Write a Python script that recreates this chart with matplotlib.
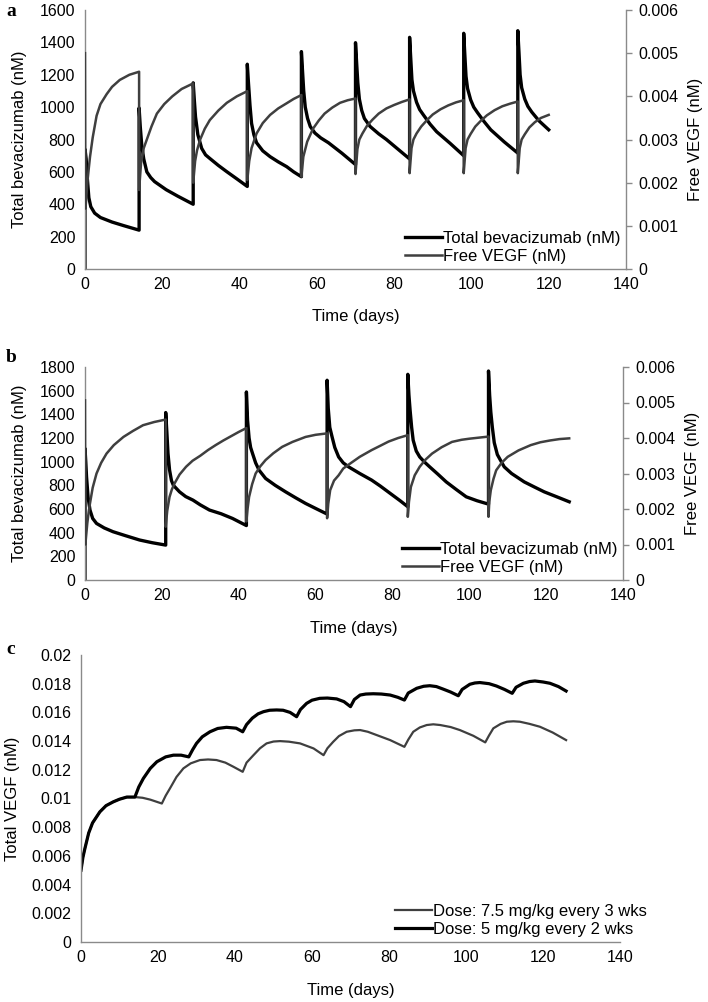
import numpy as np
import matplotlib
matplotlib.use('Agg')
import matplotlib.pyplot as plt
from matplotlib.ticker import FuncFormatter

plt.rcParams['font.family'] = ['Liberation Sans', 'DejaVu Sans']

# ---- panel a: 5 mg/kg every 2 weeks ----
a_bev_t = [0, 0, 0.3, 0.6, 1, 1.5, 2.5, 4, 7, 10, 14,
           14, 14.3, 14.7, 15.2, 16, 17, 18, 21, 24, 28,
           28, 28.3, 28.6, 29.2, 30.2, 31.2, 32.3, 34.5, 36.7, 39.4, 42,
           42, 42.3, 42.7, 43.1, 43.7, 44.4, 46, 47.9, 50, 52.2, 54, 56,
           56, 56.3, 56.6, 57, 57.6, 58.3, 59.5, 61, 63, 66.5, 70,
           70, 70.3, 70.6, 71, 71.6, 72.3, 73.8, 76, 78, 81, 84,
           84, 84.3, 84.6, 85, 85.8, 86.6, 87.6, 89.3, 91, 94.5, 98,
           98, 98.3, 98.6, 99, 99.8, 100.6, 101.6, 103.3, 105, 108.5, 112,
           112, 112.3, 112.6, 113, 113.8, 114.6, 115.6, 117.5, 120]
a_bev = [0, 740, 680, 560, 440, 385, 345, 318, 290, 268, 240,
         995, 880, 760, 680, 600, 565, 540, 490, 450, 400,
         1150, 1040, 940, 830, 745, 705, 683, 640, 601, 555, 510,
         1265, 1150, 1010, 900, 830, 780, 730, 694, 662, 632, 600, 570,
         1343, 1220, 1100, 1000, 930, 880, 840, 810, 780, 715, 645,
         1398, 1270, 1150, 1050, 980, 930, 880, 835, 800, 740, 680,
         1431, 1300, 1170, 1100, 1030, 985, 951, 895, 848, 776, 700,
         1456, 1320, 1190, 1115, 1045, 1000, 965, 910, 860, 785, 716,
         1472, 1340, 1200, 1120, 1050, 1005, 970, 915, 860]

# free VEGF, units of 1e-3 nM
a_vegf_t = [0, 0.1, 0.3, 0.6, 1, 1.3, 2, 3, 4, 5.6, 7, 9, 11.5, 14,
            14, 14.5, 15.2, 16, 17.2, 18.6, 20.5, 22.6, 25, 28,
            28, 28.5, 29, 29.8, 31, 32.3, 34.5, 36.7, 39.3, 42,
            42, 42.5, 43.1, 44.4, 46, 47.9, 50, 52.2, 54, 56,
            56, 56.5, 57.5, 59, 60.5, 62, 64, 66, 68, 70,
            70, 70.5, 71, 71.8, 73, 74.4, 76, 78, 80, 82, 84,
            84, 84.5, 85, 85.8, 87, 88.4, 90, 92, 94, 96, 98,
            98, 98.5, 99, 99.8, 101, 102.4, 104, 106, 108, 110, 112,
            112, 112.5, 113, 113.8, 115, 116.4, 118, 120]
a_vegf = [5.0, 1.4, 1.6, 2.0, 2.35, 2.6, 3.05, 3.55, 3.82, 4.05, 4.22, 4.38, 4.5, 4.57,
          1.83, 2.45, 2.8, 3.0, 3.3, 3.6, 3.82, 4.0, 4.17, 4.3,
          2.0, 2.5, 2.75, 3.0, 3.25, 3.45, 3.67, 3.85, 4.0, 4.12,
          2.06, 2.5, 2.8, 3.14, 3.38, 3.57, 3.72, 3.84, 3.94, 4.03,
          2.14, 2.6, 2.95, 3.25, 3.44, 3.6, 3.74, 3.85, 3.91, 3.95,
          2.2, 2.78, 3.0, 3.14, 3.32, 3.46, 3.6, 3.72, 3.8, 3.87, 3.93,
          2.22, 2.8, 3.0, 3.14, 3.3, 3.44, 3.58, 3.7, 3.79, 3.86, 3.91,
          2.22, 2.8, 3.0, 3.13, 3.3, 3.43, 3.56, 3.68, 3.77, 3.83, 3.88,
          2.22, 2.8, 3.0, 3.12, 3.28, 3.4, 3.5, 3.57]

# ---- panel b: 7.5 mg/kg every 3 weeks ----
b_bev_t = [0, 0, 0.2, 0.4, 0.8, 1.3, 2, 3, 5, 7.3, 10.5, 14.2, 17.5, 21,
           21, 21.3, 21.6, 22, 22.5, 23, 24.6, 26.2, 28.1, 30, 32.4, 35.4, 38.4, 42,
           42, 42.3, 42.7, 43.1, 43.6, 44.4, 45.3, 47, 49.5, 52.2, 54.8, 57.4, 60, 63,
           63, 63.3, 63.7, 64.3, 65, 66, 67.2, 68.6, 71.5, 74.6, 76.8, 79.5, 82, 84,
           84, 84.3, 84.6, 85, 85.4, 86.2, 87.1, 88.4, 89.7, 91.8, 94, 96.6, 99.2, 102, 105,
           105, 105.3, 105.6, 106, 106.5, 107.3, 108.5, 109.1, 111, 114.3, 117, 119.5, 123, 126]
b_bev = [0, 1111, 1000, 872, 700, 591, 520, 478, 440, 408, 375, 338, 315, 295,
         1415, 1250, 1069, 930, 840, 800, 745, 705, 675, 635, 591, 560, 520, 460,
         1589, 1350, 1200, 1120, 1069, 990, 928, 858, 800, 745, 695, 647, 605, 557,
         1688, 1450, 1290, 1209, 1120, 1040, 990, 956, 900, 844, 795, 730, 670, 619,
         1738, 1560, 1434, 1290, 1181, 1090, 1040, 995, 956, 895, 829, 765, 703, 670, 641,
         1766, 1560, 1420, 1290, 1160, 1060, 990, 956, 900, 829, 785, 745, 700, 661]

b_vegf_t = [0, 0.1, 0.3, 0.6, 1, 1.3, 2, 3, 4.2, 5.6, 7.5, 10, 12.5, 15.1, 18, 21,
            21, 21.4, 22, 22.6, 23.3, 24.6, 26.3, 28, 30, 32, 34, 36, 38, 40, 42,
            42, 42.3, 42.7, 43.5, 44.4, 45.6, 47, 49, 51.3, 54, 57.4, 60, 63,
            63, 63.3, 63.8, 64.8, 66, 67.2, 68.6, 71.5, 74.6, 77, 79, 81.5, 84,
            84, 84.3, 84.8, 85.8, 87.1, 88.6, 90.3, 92.8, 95.5, 98, 100, 102.5, 105,
            105, 105.2, 105.6, 106.3, 107, 108.4, 110, 112.8, 116, 118.5, 121, 123.5, 126]
b_vegf = [5.06, 1.0, 1.25, 1.6, 1.95, 2.16, 2.6, 3.0, 3.3, 3.56, 3.8, 4.03, 4.2, 4.36, 4.45, 4.52,
          1.5, 1.95, 2.34, 2.55, 2.72, 2.97, 3.19, 3.36, 3.5, 3.66, 3.8, 3.93, 4.05, 4.17, 4.28,
          1.65, 2.0, 2.34, 2.7, 3.0, 3.2, 3.38, 3.57, 3.75, 3.89, 4.03, 4.09, 4.13,
          1.74, 2.15, 2.53, 2.8, 2.95, 3.14, 3.25, 3.47, 3.66, 3.79, 3.9, 4.0, 4.08,
          1.78, 2.2, 2.62, 2.95, 3.19, 3.39, 3.56, 3.74, 3.89, 3.95, 3.98, 4.01, 4.04,
          1.78, 2.2, 2.53, 2.85, 3.09, 3.3, 3.47, 3.65, 3.8, 3.88, 3.93, 3.97, 3.99]

# ---- panel c: total VEGF for both regimens (units of 1e-3 nM) ----
c_q3w_t = [0, 0.5, 1, 2, 3, 4.9, 6.5, 8.4, 10, 11.9, 14, 16, 18, 21,
           22, 23.1, 24.8, 26.6, 28.5, 30.9, 33, 35.2, 37.5, 39.6, 42,
           43, 44.8, 46.5, 48.2, 50, 51.7, 54, 56.9, 60.4, 63,
           64, 65.5, 67, 69, 71, 72.5, 74.5, 76.8, 80.3, 84,
           85, 86.3, 88, 89.8, 91.5, 93.3, 96, 98.4, 101.9, 105,
           106, 107.1, 109, 110.6, 112.3, 114, 116.5, 119.2, 122.5, 126]
c_q3w = [5.0, 5.9, 6.5, 7.6, 8.3, 9.07, 9.5, 9.77, 9.95, 10.1, 10.1, 10.05, 9.92, 9.65,
         10.2, 10.7, 11.5, 12.1, 12.45, 12.68, 12.72, 12.68, 12.5, 12.21, 11.86,
         12.5, 13.02, 13.5, 13.84, 13.97, 14.0, 13.96, 13.84, 13.49, 13.02,
         13.5, 13.95, 14.35, 14.65, 14.75, 14.77, 14.65, 14.42, 14.07, 13.6,
         14.1, 14.65, 14.95, 15.12, 15.17, 15.12, 14.98, 14.77, 14.37, 13.91,
         14.4, 14.89, 15.2, 15.35, 15.38, 15.35, 15.2, 15.0, 14.6, 14.07]

c_q2w_t = [0, 0.5, 1, 2, 3, 4.9, 6.5, 8.4, 10, 11.9, 14,
           15, 16.2, 18, 19.7, 22, 24, 26, 28,
           29, 30, 31.5, 33.5, 35.5, 37.8, 40.3, 42,
           43, 44.5, 46, 47.4, 49, 50.8, 52.5, 54.3, 56,
           57, 58.6, 60, 62, 64, 66.4, 68.3, 70,
           71, 72.5, 74, 75.9, 78, 80.3, 82.3, 84,
           85, 87.2, 89, 90.6, 92.3, 94, 96, 98,
           99, 101, 102.3, 103.6, 106, 107.9, 110, 112,
           113, 114.9, 116.5, 117.9, 120, 121.8, 124, 126]
c_q2w = [5.0, 5.9, 6.5, 7.6, 8.3, 9.07, 9.5, 9.77, 9.95, 10.1, 10.1,
         10.8, 11.4, 12.1, 12.56, 12.9, 13.02, 13.02, 12.9,
         13.4, 13.84, 14.3, 14.65, 14.88, 14.96, 14.9, 14.65,
         15.15, 15.6, 15.9, 16.05, 16.15, 16.17, 16.15, 16.0, 15.7,
         16.2, 16.63, 16.85, 16.98, 17.0, 16.94, 16.75, 16.4,
         16.9, 17.21, 17.28, 17.3, 17.28, 17.21, 17.05, 16.86,
         17.35, 17.68, 17.82, 17.86, 17.8, 17.63, 17.42, 17.16,
         17.6, 17.96, 18.05, 18.08, 18.0, 17.84, 17.6, 17.33,
         17.75, 18.03, 18.15, 18.19, 18.12, 18.03, 17.8, 17.49]

BLACK = '#000000'
GREY = '#3f3f3f'
SPINE = '#8a8a8a'
TFS = 11.5   # tick labels
LFS = 12     # axis labels / legend

W, H = 708, 1002
fig = plt.figure(figsize=(W / 100, H / 100), dpi=100)


def px_axes(left, top, right, bottom):
    return fig.add_axes([left / W, 1 - bottom / H, (right - left) / W, (bottom - top) / H])


def style_left(ax, ymax, ystep, fmt):
    ax.set_xlim(0, 140)
    ax.set_ylim(0, ymax)
    ax.set_xticks(np.arange(0, 141, 20))
    ax.set_yticks(np.arange(0, ymax + ystep / 2, ystep))
    ax.yaxis.set_major_formatter(FuncFormatter(fmt))
    for s in ['top', 'right']:
        ax.spines[s].set_visible(False)
    for s in ['left', 'bottom']:
        ax.spines[s].set_color(SPINE)
        ax.spines[s].set_linewidth(1.0)
    ax.tick_params(axis='both', length=0, labelsize=TFS)
    ax.tick_params(axis='y', pad=7)
    ax.tick_params(axis='x', pad=6)


def style_right(ax2):
    ax2.set_ylim(0, 0.006)
    ax2.set_yticks(np.arange(0, 0.0065, 0.001))
    ax2.yaxis.set_major_formatter(FuncFormatter(lambda v, p: f'{round(v, 4):g}'))
    for s in ['top', 'left', 'bottom']:
        ax2.spines[s].set_visible(False)
    ax2.spines['right'].set_color(SPINE)
    ax2.spines['right'].set_linewidth(1.0)
    ax2.tick_params(axis='y', length=4, width=1, color=SPINE, labelsize=TFS, pad=5)
    ax2.set_ylabel('Free VEGF (nM)', fontsize=LFS, labelpad=7)


def add_legend(ax, handles, labels, xr):
    ax.legend(handles, labels, loc='lower right', bbox_to_anchor=(xr, 0.0),
              frameon=False, fontsize=LFS, handlelength=2.2, handletextpad=0.1,
              labelspacing=0.2, borderaxespad=0.0, borderpad=0.3)


int_fmt = lambda v, p: f'{int(round(v))}'

# panel a
axa = px_axes(85, 10, 626, 269)
style_left(axa, 1600, 200, int_fmt)
la, = axa.plot(a_bev_t, a_bev, color=BLACK, lw=2.4)
axa.set_ylabel('Total bevacizumab (nM)', fontsize=LFS, labelpad=9)
axa.set_xlabel('Time (days)', fontsize=LFS, labelpad=12)
axa2 = axa.twinx()
style_right(axa2)
la2, = axa2.plot(a_vegf_t, np.array(a_vegf) / 1000, color=GREY, lw=1.8)
add_legend(axa2, [la, la2], ['Total bevacizumab (nM)', 'Free VEGF (nM)'], 1.0)

# panel b
axb = px_axes(85, 367, 623, 580)
style_left(axb, 1800, 200, int_fmt)
lb, = axb.plot(b_bev_t, b_bev, color=BLACK, lw=2.4)
axb.set_ylabel('Total bevacizumab (nM)', fontsize=LFS, labelpad=9)
axb.set_xlabel('Time (days)', fontsize=LFS, labelpad=13)
axb2 = axb.twinx()
style_right(axb2)
lb2, = axb2.plot(b_vegf_t, np.array(b_vegf) / 1000, color=GREY, lw=1.8)
add_legend(axb2, [lb, lb2], ['Total bevacizumab (nM)', 'Free VEGF (nM)'], 1.0)

# panel c
axc = px_axes(81, 655, 620, 942)
style_left(axc, 0.02, 0.002, lambda v, p: f'{round(v, 4):g}')
lc1, = axc.plot(c_q3w_t, np.array(c_q3w) / 1000, color=GREY, lw=1.6)
lc2, = axc.plot(c_q2w_t, np.array(c_q2w) / 1000, color=BLACK, lw=2.3)
axc.set_ylabel('Total VEGF (nM)', fontsize=LFS, labelpad=8)
axc.set_xlabel('Time (days)', fontsize=LFS, labelpad=13)
add_legend(axc, [lc1, lc2], ['Dose: 7.5 mg/kg every 3 wks', 'Dose: 5 mg/kg every 2 wks'], 1.06)

# panel letters
for txt, y in [('a', 12), ('b', 358), ('c', 650)]:
    fig.text(6 / W, 1 - y / H, txt, family='Liberation Serif', fontweight='bold',
             fontsize=14, va='center', ha='left')

fig.savefig('out.png', dpi=100)
